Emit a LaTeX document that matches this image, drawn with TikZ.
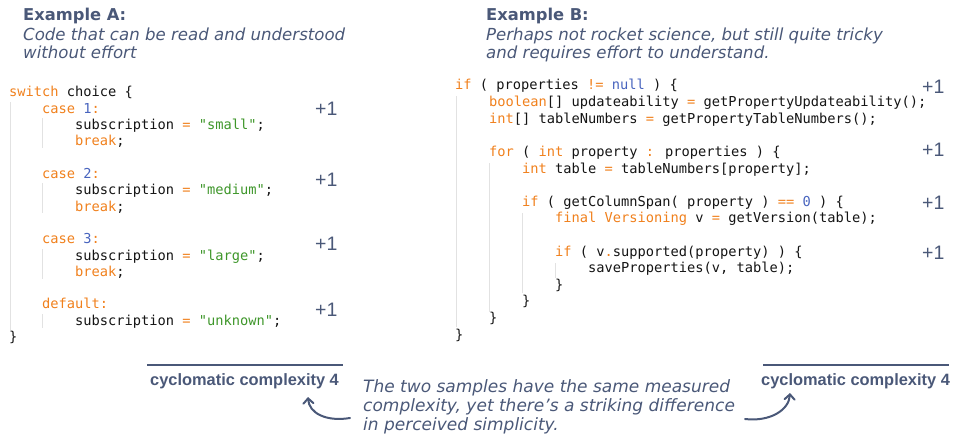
\documentclass[tikz,border=0pt]{standalone}
\usepackage{fontspec}
\setmainfont{DejaVu Sans}
\newfontfamily\codefont{DejaVu Sans Mono}
\newfontfamily\lsans{Liberation Sans}
\usetikzlibrary{arrows.meta}
\definecolor{slate}{HTML}{4A5878}
\definecolor{kwc}{RGB}{240,128,28}
\definecolor{numc}{RGB}{72,100,190}
\definecolor{strc}{RGB}{62,150,42}
\definecolor{codec}{RGB}{20,20,20}
\definecolor{guidec}{RGB}{226,226,226}
\newcommand\kw[1]{\textcolor{kwc}{#1}}
\newcommand\nm[1]{\textcolor{numc}{#1}}
\newcommand\st[1]{\textcolor{strc}{#1}}
\tikzset{
  code/.style={anchor=base west, inner sep=0pt, text=codec, font=\codefont\fontsize{13.7}{16}\selectfont},
  heading/.style={anchor=base west, inner sep=0pt, text=slate, font=\fontsize{16.3}{18}\selectfont\bfseries},
  subhead/.style={anchor=base west, inner sep=0pt, text=slate, font=\fontsize{16.6}{18}\selectfont\itshape},
  note/.style={anchor=base west, inner sep=0pt, text=slate, font=\fontsize{17}{19}\selectfont\itshape},
  plusone/.style={anchor=base west, inner sep=0pt, text=slate, font=\lsans\fontsize{19.5}{21}\selectfont},
  cclabel/.style={anchor=base west, inner sep=0pt, text=slate, font=\lsans\fontsize{16.4}{19}\selectfont\bfseries},
  guide/.style={draw=guidec, line width=1pt},
  rule/.style={draw=slate, line width=1.5pt},
  arr/.style={draw=slate, line width=2pt, line cap=round, -{Straight Barb[length=5pt,width=10pt,line cap=round]}}
}
\begin{document}
\begin{tikzpicture}[x=1pt,y=-1pt]
\useasboundingbox (0,0) rectangle (954,436);
% headings
\node[heading] (ha) at (23,21) {Example A:};
\node[subhead] (sa1) at (23,41) {Code that can be read and understood};
\node[subhead] (sa2) at (23,59) {without effort};
\node[heading] (hb) at (486,21) {Example B:};
\node[subhead] (sb1) at (486,41) {Perhaps not rocket science, but still quite tricky};
\node[subhead] (sb2) at (486,59) {and requires effort to understand.};
% guides A
\draw[guide] (10,102) -- (10,330);
\draw[guide] (42,118) -- (42,148);
\draw[guide] (42,183) -- (42,213);
\draw[guide] (42,249) -- (42,279);
\draw[guide] (42,314) -- (42,328);
% code A
\node[code] (a0) at (9,97) {\kw{switch} choice \{};
\node[code] (a1) at (42,113.3) {\kw{case} \nm{1}\kw{:}};
\node[code] (a2) at (75,129.6) {subscription \kw{=} \st{"small"};};
\node[code] (a3) at (75,145.9) {\kw{break};};
\node[code] (a5) at (42,178.5) {\kw{case} \nm{2}\kw{:}};
\node[code] (a6) at (75,194.8) {subscription \kw{=} \st{"medium"};};
\node[code] (a7) at (75,211.1) {\kw{break};};
\node[code] (a9) at (42,243.7) {\kw{case} \nm{3}\kw{:}};
\node[code] (a10) at (75,260) {subscription \kw{=} \st{"large"};};
\node[code] (a11) at (75,276.3) {\kw{break};};
\node[code] (a13) at (42,308.9) {\kw{default:}};
\node[code] (a14) at (75,325.2) {subscription \kw{=} \st{"unknown"};};
\node[code] (a15) at (9,341.5) {\}};
% +1 A
\node[plusone] (pa1) at (315,115) {+1};
\node[plusone] (pa2) at (315,186) {+1};
\node[plusone] (pa3) at (315,250) {+1};
\node[plusone] (pa4) at (315,316) {+1};
% guides B
\draw[guide] (456,96) -- (456,327);
\draw[guide] (489,163) -- (489,312);
\draw[guide] (522,213) -- (522,293);
\draw[guide] (555,263) -- (555,278);
% code B
\node[code] (b0) at (455,90) {\kw{if} ( properties \kw{!=} \nm{null} ) \{};
\node[code] (b1) at (489,106.6) {\kw{boolean}[] updateability \kw{=} getPropertyUpdateability();};
\node[code] (b2) at (489,123.2) {\kw{int}[] tableNumbers \kw{=} getPropertyTableNumbers();};
\node[code] (b4) at (489,156.4) {\kw{for} ( \kw{int} property \kw{:} properties ) \{};
\node[code] (b5) at (522,173) {\kw{int} table \kw{=} tableNumbers[property];};
\node[code] (b7) at (522,206.2) {\kw{if} ( getColumnSpan( property ) \kw{==} \nm{0} ) \{};
\node[code] (b8) at (555,222.8) {\kw{final Versioning} v \kw{=} getVersion(table);};
\node[code] (b10) at (555,256) {\kw{if} ( v\kw{.}supported(property) ) \{};
\node[code] (b11) at (588,272.6) {saveProperties(v, table);};
\node[code] (b12) at (555,289.2) {\}};
\node[code] (b13) at (522,305.8) {\}};
\node[code] (b14) at (489,322.4) {\}};
\node[code] (b15) at (455,339) {\}};
% +1 B
\node[plusone] (pb1) at (922,93) {+1};
\node[plusone] (pb2) at (922,157) {+1};
\node[plusone] (pb3) at (922,209) {+1};
\node[plusone] (pb4) at (922,259) {+1};
% bottom labels
\draw[rule] (147,365) -- (343,365);
\node[cclabel] (cca) at (150,385) {cyclomatic complexity 4};
\draw[rule] (763,365) -- (949,365);
\node[cclabel] (ccb) at (761,385) {cyclomatic complexity 4};
% note
\node[note] (n1) at (363,392.7) {The two samples have the same measured};
\node[note] (n2) at (363,411.7) {complexity, yet there’s a striking difference};
\node[note] (n3) at (363,430) {in perceived simplicity.};
% arrows
\coordinate (astart) at (350,418);
\coordinate (aend) at (308,397);
\coordinate (bstart) at (745,419);
\coordinate (bend) at (790,393);
\draw[arr] (astart) .. controls (326,422) and (309,413) .. (aend);
\draw[arr] (bstart) .. controls (770,422) and (789,410) .. (bend);
\end{tikzpicture}
\end{document}
